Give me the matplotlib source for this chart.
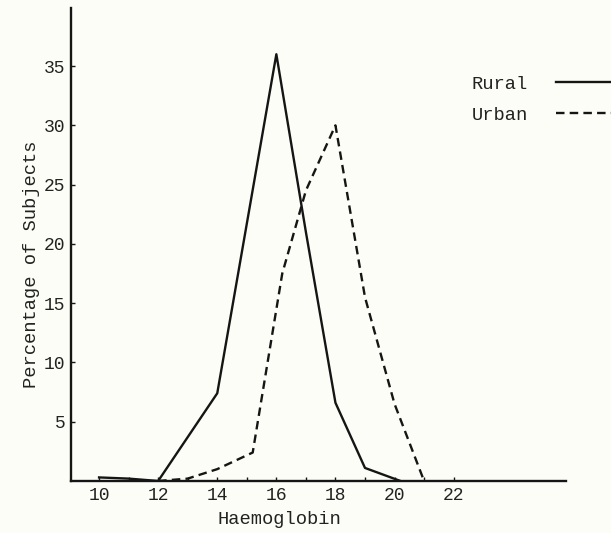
"""
Haemoglobin distribution, rural vs urban subjects.
"""
import matplotlib
matplotlib.use("Agg")
import matplotlib.pyplot as plt

# values
rural_hb = [10, 11, 12, 14, 16, 17, 18, 19, 20.2]
rural_pct = [0.3, 0.2, 0.0, 7.4, 36.0, 21.0, 6.6, 1.1, 0.0]

urban_hb = [12, 13, 14, 15.2, 16.2, 17, 18, 19, 20, 21]
urban_pct = [0.0, 0.2, 1.0, 2.4, 17.5, 24.5, 30.0, 15.5, 6.5, 0.0]

y_ticks = [5, 10, 15, 20, 25, 30, 35]
x_ticks = list(range(10, 23))
x_labels = [str(t) if t % 2 == 0 else "" for t in x_ticks]

BG = "#fdfdf7"
INK = "#151515"
TXT = "#222222"

plt.rcParams["font.family"] = ["Liberation Mono", "DejaVu Sans Mono"]
plt.rcParams["font.size"] = 13.5


def main():
    fig = plt.figure(figsize=(6.11, 5.33), dpi=100, facecolor=BG)
    ax = fig.add_axes([0.1162, 0.0976, 0.810, 0.8874], facecolor=BG)

    ax.plot(rural_hb, rural_pct, color=INK, lw=1.7, label="Rural")
    ax.plot(urban_hb, urban_pct, color=INK, lw=1.7,
            linestyle=(0, (3.6, 2.2)), label="Urban")

    ax.set_xlim(9.05, 25.8)
    ax.set_ylim(0, 39.9)

    for side in ("top", "right"):
        ax.spines[side].set_visible(False)
    for side in ("left", "bottom"):
        ax.spines[side].set_linewidth(1.7)
        ax.spines[side].set_color(INK)

    ax.set_yticks(y_ticks)
    ax.set_xticks(x_ticks)
    ax.set_xticklabels(x_labels)
    ax.tick_params(axis="both", direction="in", length=3, width=1,
                   color=INK, labelcolor=TXT, labelsize=13)
    ax.tick_params(axis="x", pad=4)
    ax.tick_params(axis="y", pad=4)

    ax.set_xlabel("Haemoglobin", color=TXT, fontsize=13.5)
    ax.xaxis.set_label_coords(0.422, -0.064)
    ax.set_ylabel("Percentage of Subjects", color=TXT, fontsize=13.5)
    ax.yaxis.set_label_coords(-0.062, 0.459)

    leg = fig.legend(loc="upper left", bbox_to_anchor=(0.772, 0.858),
                     markerfirst=False, frameon=False, borderpad=0,
                     borderaxespad=0, handlelength=3.6, handletextpad=1.5,
                     labelspacing=0.75, fontsize=13.5)
    for txt in leg.get_texts():
        txt.set_color(TXT)

    fig.savefig("out.png", dpi=100, facecolor=BG)


if __name__ == "__main__":
    main()
